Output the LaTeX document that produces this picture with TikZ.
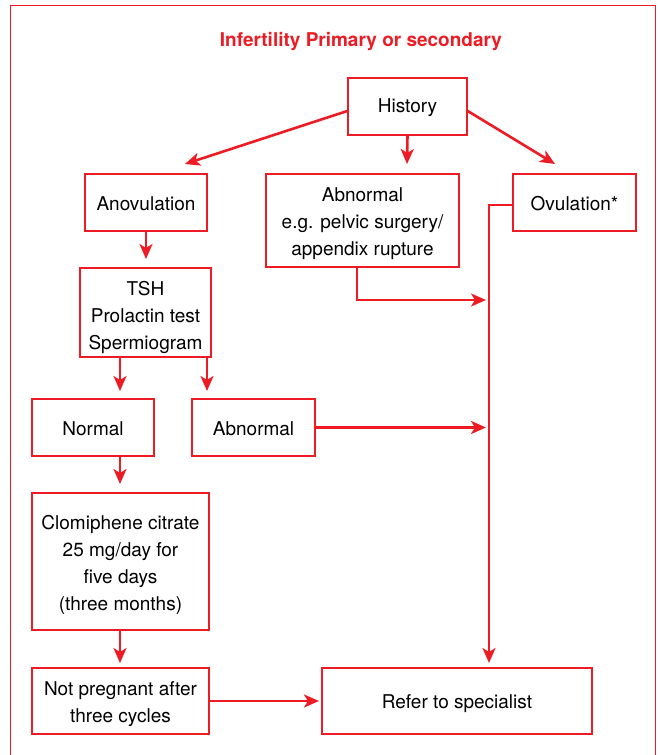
\documentclass[tikz,border=0pt]{standalone}
\usepackage{fontspec}
\setmainfont{TeX Gyre Heros}
\usetikzlibrary{arrows.meta}
\definecolor{fred}{RGB}{237,28,36}
\tikzset{
  box/.style={draw=fred, line width=1.4pt, fill=white, inner sep=0pt},
  lab/.style={align=center, inner sep=0pt, yshift=-3pt,
    font=\fontsize{19}{27}\selectfont, text=black},
  lab1/.style={lab, yshift=1.5pt},
  arr/.style={draw=fred, line width=2.6pt, -{Stealth[length=15pt,width=13pt,inset=4pt]}},
}
\begin{document}
\begin{tikzpicture}[x=1pt,y=-1pt]
\useasboundingbox (0,0) rectangle (660,755);
\draw[fred, line width=1pt] (10,755) -- (10,5) -- (655,5) -- (655,755);
\node[text=fred, font=\fontsize{19}{23}\selectfont\bfseries] (title) at (361,42) {Infertility Primary or secondary};

\node[box, minimum width=119pt, minimum height=57pt, label={[lab1]center:History}] (hist) at (407.5,106.5) {};
\node[box, minimum width=122pt, minimum height=57pt, label={[lab1]center:Anovulation}] (anov) at (146,202.5) {};
\node[box, minimum width=193pt, minimum height=93pt, label={[lab]center:{Abnormal\\e.g. pelvic surgery/\\appendix rupture}}] (abn1) at (362.5,220.5) {};
\node[box, minimum width=123pt, minimum height=57pt, label={[lab1]center:Ovulation*}] (ovu) at (574.5,202.5) {};
\node[box, minimum width=131pt, minimum height=89pt, label={[lab, yshift=-1.5pt]center:{TSH\\Prolactin test\\Spermiogram}}] (tsh) at (145.5,312.5) {};
\node[box, minimum width=122pt, minimum height=57pt, label={[lab1]center:Normal}] (norm) at (93,427.5) {};
\node[box, minimum width=123pt, minimum height=57pt, label={[lab1]center:Abnormal}] (abn2) at (253.5,427.5) {};
\node[box, minimum width=177pt, minimum height=137pt, label={[lab]center:{Clomiphene citrate\\25 mg/day for\\five days\\(three months)}}] (clom) at (120.5,561.5) {};
\node[box, minimum width=177pt, minimum height=66pt, label={[lab]center:{Not pregnant after\\three cycles}}] (notp) at (120.5,701) {};
\node[box, minimum width=270pt, minimum height=66pt, label={[lab]center:Refer to specialist}] (refer) at (457,701) {};

\coordinate (h1) at (185,164);
\coordinate (h2) at (555,164);
\coordinate (m1) at (489,205);
\coordinate (m2) at (489,663);
\coordinate (j1) at (357,300);
\coordinate (j2) at (486,300);
\coordinate (j3) at (486,427.5);

\draw[arr] (hist.west |- 0,111) -- (h1);
\draw[arr] (hist.south) -- (407,164);
\draw[arr] (hist.east |- 0,111) -- (h2);
\draw[arr] (anov.south) -- (146,259);
\draw[arr] (tsh.south -| 120,0) -- (120,391);
\draw[arr] (tsh.south -| 207,0) -- (207,391);
\draw[arr] (norm.south -| 120,0) -- (120,484);
\draw[arr] (clom.south -| 120,0) -- (120,663);
\draw[arr] (notp.east) -- (319,701);
\draw[arr] (abn1.south -| j1) -- (j1) -- (j2);
\draw[arr] (abn2.east) -- (j3);
\draw[arr] (ovu.west |- m1) -- (m1) -- (m2);
\end{tikzpicture}
\end{document}
